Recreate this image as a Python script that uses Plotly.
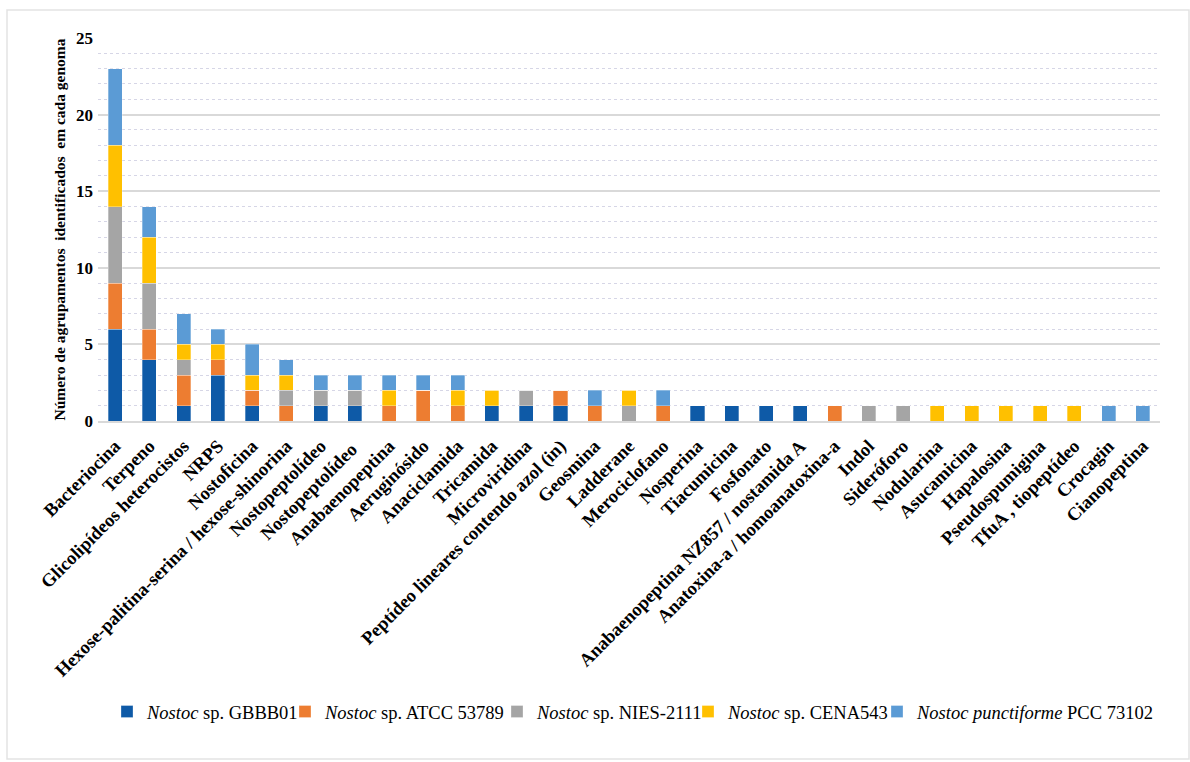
import plotly.graph_objects as go

# Biosynthetic gene cluster classes
categories = [
    "Bacteriocina", "Terpeno", "Glicolipídeos heterocistos", "NRPS", "Nostoficina",
    "Hexose-palitina-serina / hexose-shinorina", "Nostopeptolídeo", "Nostopeptolídeo ",
    "Anabaenopeptina", "Aeruginósido", "Anaciclamida", "Tricamida", "Microviridina",
    "Peptídeo lineares contendo azol (in)", "Geosmina", "Ladderane", "Merociclofano",
    "Nosperina", "Tiacumicina", "Fosfonato", "Anabaenopeptina NZ857 / nostamida A",
    "Anatoxina-a / homoanatoxina-a", "Indol", "Sideróforo", "Nodularina", "Asucamicina",
    "Hapalosina", "Pseudospumigina", "TfuA , tiopeptídeo", "Crocagin", "Cianopeptina",
]

# Cluster counts per genome
gbbb01 = [6, 4, 1, 3, 1, 0, 1, 1, 0, 0, 0, 1, 1, 1, 0, 0, 0, 1, 1, 1, 1, 0, 0, 0, 0, 0, 0, 0, 0, 0, 0]
atcc53789 = [3, 2, 2, 1, 1, 1, 0, 0, 1, 2, 1, 0, 0, 1, 1, 0, 1, 0, 0, 0, 0, 1, 0, 0, 0, 0, 0, 0, 0, 0, 0]
nies2111 = [5, 3, 1, 0, 0, 1, 1, 1, 0, 0, 0, 0, 1, 0, 0, 1, 0, 0, 0, 0, 0, 0, 1, 1, 0, 0, 0, 0, 0, 0, 0]
cena543 = [4, 3, 1, 1, 1, 1, 0, 0, 1, 0, 1, 1, 0, 0, 0, 1, 0, 0, 0, 0, 0, 0, 0, 0, 1, 1, 1, 1, 1, 0, 0]
pcc73102 = [5, 2, 2, 1, 2, 1, 1, 1, 1, 1, 1, 0, 0, 0, 1, 0, 1, 0, 0, 0, 0, 0, 0, 0, 0, 0, 0, 0, 0, 1, 1]

series_names = [
    "<i>Nostoc</i> sp. GBBB01",
    "<i>Nostoc</i> sp. ATCC 53789",
    "<i>Nostoc</i> sp. NIES-2111",
    "<i>Nostoc</i> sp. CENA543",
    "<i>Nostoc punctiforme</i> PCC 73102",
]
series_values = [gbbb01, atcc53789, nies2111, cena543, pcc73102]
series_colors = ["#0E5AA7", "#ED7D31", "#A5A5A5", "#FFC000", "#5B9BD5"]

SERIF = "Liberation Serif, Times New Roman, serif"
W, H = 1190, 762
ml, mr, mt, mb = 98, 30, 38, 341
pw, ph = W - ml - mr, H - mt - mb

# Horizontal pixel where each legend entry's text begins
legend_text_x = [147, 325, 537, 728, 917]
legend_ids = ["legend", "legend2", "legend3", "legend4", "legend5"]

fig = go.Figure()
for name, vals, color, lid in zip(series_names, series_values, series_colors, legend_ids):
    fig.add_trace(go.Bar(
        x=categories, y=vals, name=name, legend=lid,
        marker=dict(color=color, line=dict(color="rgba(255,255,255,0.6)", width=0.5)),
    ))

legend_y = (H - mb - 712) / ph
legends = {}
for lid, tx in zip(legend_ids, legend_text_x):
    legends[lid] = dict(
        orientation="h", x=(tx - 40 - ml) / pw, xanchor="left",
        y=legend_y, yanchor="middle", bgcolor="rgba(0,0,0,0)",
        font=dict(family=SERIF, size=18.5, color="#000000"),
        itemwidth=30,
    )

fig.update_layout(
    width=W, height=H,
    barmode="stack", bargap=0.59,
    paper_bgcolor="white", plot_bgcolor="white",
    margin=dict(l=ml, r=mr, t=mt, b=mb, autoexpand=False),
    font=dict(family=SERIF, color="#000000"),
    showlegend=True,
    xaxis=dict(
        tickangle=-45, tickfont=dict(family=SERIF, size=18.5, color="#000000", weight="bold"),
        showgrid=False, showline=True, linecolor="#D9D9D9", linewidth=2,
        ticks="", automargin=False, ticklabelstandoff=5,
    ),
    yaxis=dict(
        range=[0, 25], dtick=5, tick0=0,
        showgrid=True, gridcolor="#D9D9D9", gridwidth=1.5,
        minor=dict(dtick=1, showgrid=True, gridcolor="#D6D6E6", griddash="dot", gridwidth=1),
        tickfont=dict(family=SERIF, size=17, color="#000000", weight="bold"),
        zeroline=False, ticks="", automargin=False, ticklabelstandoff=4,
        title=dict(text="Número de agrupamentos  identificados  em cada genoma",
                   font=dict(family=SERIF, size=15.5, color="#000000", weight="bold"),
                   standoff=6),
    ),
    **legends,
)

# Light outer frame around the chart
fig.add_shape(
    type="rect", xref="paper", yref="paper",
    x0=(7 - ml) / pw, x1=(1189 - ml) / pw,
    y0=(H - mb - 759) / ph, y1=(H - mb - 10) / ph,
    line=dict(color="#E3E3E3", width=1.5), fillcolor="rgba(0,0,0,0)", layer="below",
)

fig.write_html("out.html")
